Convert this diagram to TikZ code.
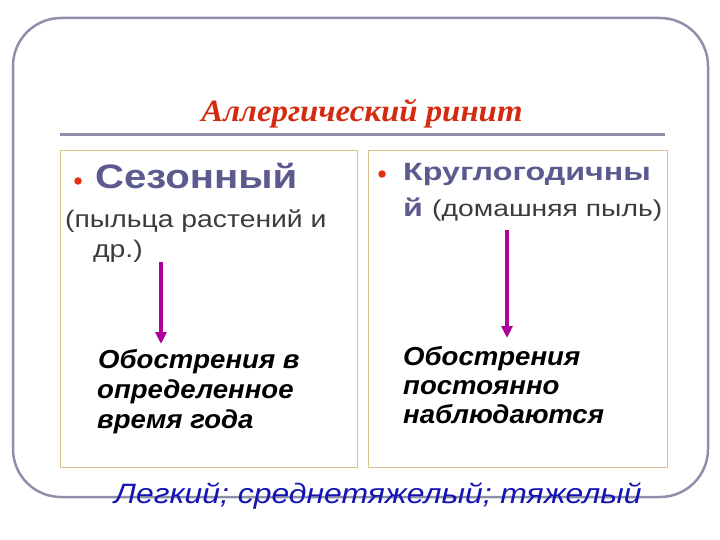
\documentclass[tikz,border=0pt]{standalone}
\usepackage{fontspec}
\usepackage{graphicx}
\setmainfont{Liberation Sans}
\newfontfamily\titlefont{Liberation Serif}
\usetikzlibrary{arrows.meta}
\definecolor{framec}{HTML}{8E90AA}
\definecolor{boxc}{HTML}{D8C48A}
\definecolor{titlec}{HTML}{D42A10}
\definecolor{headc}{HTML}{5B5B8F}
\definecolor{grayt}{HTML}{3C3C3C}
\definecolor{arrowc}{HTML}{B0009A}
\definecolor{bulletc}{HTML}{E03010}
\definecolor{bluet}{HTML}{1414B4}
\newcommand{\stretchx}[2]{\scalebox{#1}[1]{#2}}
\tikzset{
  txt/.style={inner sep=0pt, anchor=base west},
  colbox/.style={draw=boxc, line width=0.9pt},
  bul/.style={circle, fill=bulletc, inner sep=0pt, minimum size=7.5pt},
  arr/.style={draw=arrowc, line width=3.5pt, -{Triangle[width=11pt,length=12pt]}},
  exac/.style={font=\fontsize{26}{26}\selectfont\bfseries\itshape},
}
\begin{document}
\begin{tikzpicture}[x=1pt,y=-1pt]
\useasboundingbox (0,0) rectangle (720,540);
% frame
\draw[framec, line width=2.5pt, rounded corners=48pt] (13,18) rectangle (708,497);
% title
\node[inner sep=0pt, anchor=base] (title) at (362,122) {\titlefont\bfseries\itshape\fontsize{31}{31}\selectfont\color{titlec}\stretchx{1.06}{Аллергический ринит}};
\draw[framec, line width=3.5pt] (60,134.5) coordinate (ul1) -- (665,134.5) coordinate (ul2);
% boxes
\draw[colbox] (60,150) rectangle (357,467);
\draw[colbox] (368,150) rectangle (667,467);
% left column
\node[bul] (b1) at (78,181) {};
\node[txt] (h1) at (95,189) {\fontsize{34}{34}\selectfont\bfseries\color{headc}\stretchx{1.18}{Сезонный}};
\node[txt] (l1a) at (65,227) {\fontsize{24}{24}\selectfont\color{grayt}\stretchx{1.18}{(пыльца растений и}};
\node[txt] (l1b) at (93,257) {\fontsize{24}{24}\selectfont\color{grayt}\stretchx{1.18}{др.)}};
\coordinate (a1s) at (161,262);
\coordinate (a1e) at (161,344);
\draw[arr] (a1s) -- (a1e);
\node[txt, exac] (o1a) at (98,368) {\stretchx{1.06}{Обострения в}};
\node[txt, exac] (o1b) at (97,398) {\stretchx{1.06}{определенное}};
\node[txt, exac] (o1c) at (97,428) {\stretchx{1.06}{время года}};
% right column
\node[bul] (b2) at (382,174) {};
\node[txt] (h2) at (403,181) {\fontsize{25}{25}\selectfont\bfseries\color{headc}\stretchx{1.29}{Круглогодичны}};
\node[txt] (h2b) at (403,216) {\fontsize{25}{25}\selectfont\bfseries\color{headc}\stretchx{1.29}{й}};
\node[txt] (h2c) at (432,216) {\fontsize{23}{23}\selectfont\color{grayt}\stretchx{1.23}{(домашняя пыль)}};
\coordinate (a2s) at (507,230);
\coordinate (a2e) at (507,338);
\draw[arr] (a2s) -- (a2e);
\node[txt, exac] (o2a) at (403,365) {\stretchx{1.06}{Обострения}};
\node[txt, exac] (o2b) at (403,394) {\stretchx{1.06}{постоянно}};
\node[txt, exac] (o2c) at (403,423) {\stretchx{1.06}{наблюдаются}};
% bottom
\node[txt] (sev) at (114,503) {\fontsize{28}{28}\selectfont\itshape\color{bluet}\stretchx{1.14}{Легкий; среднетяжелый; тяжелый}};
\end{tikzpicture}
\end{document}
